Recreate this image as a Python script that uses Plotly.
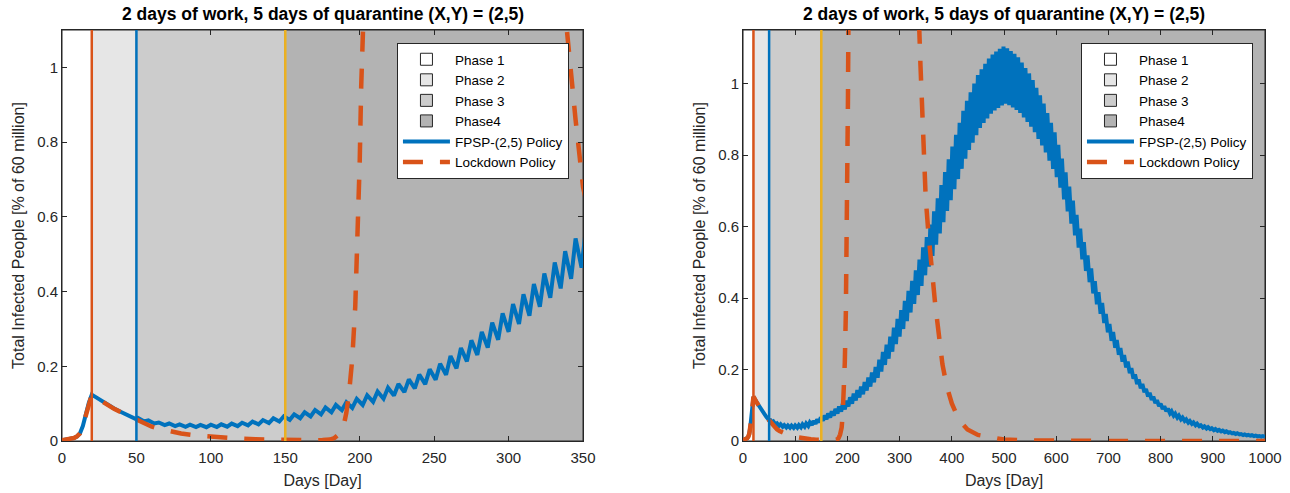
import plotly.graph_objects as go

# ---------------- data ----------------
title_text = "2 days of work, 5 days of quarantine (X,Y) = (2,5)"
phase_names = ["Phase 1", "Phase 2", "Phase 3", "Phase4"]
phase_start = [0, 20, 50, 150]
phase_colors = ["#ffffff", "#e6e6e6", "#cccccc", "#b3b3b3"]
switch_days = [20, 50, 150]
switch_colors = ["#D95319", "#0072BD", "#EDB120"]

# FPSP policy: smooth part before the weekly cycling starts
fpsp_early_days = [0, 4, 8, 10, 12, 14, 16, 18, 20, 25, 30, 35, 40, 45, 50]
fpsp_early_vals = [0.002, 0.004, 0.008, 0.012, 0.02, 0.04, 0.072, 0.102, 0.124,
                   0.111, 0.099, 0.087, 0.077, 0.067, 0.058]
# weekly cycle: a peak at the start of each week, a trough 4 days later
fpsp_week_days = list(range(51, 997, 7))
fpsp_week_level = [
    0.057, 0.051, 0.046, 0.0434, 0.0413, 0.0404, 0.0401, 0.0405, 0.0415, 0.0432,
    0.0454, 0.0482, 0.052, 0.0564, 0.0613, 0.0662, 0.0714, 0.077, 0.0833, 0.0896,
    0.0962, 0.1046, 0.1136, 0.1229, 0.132, 0.1417, 0.153, 0.165, 0.178, 0.192,
    0.211, 0.231, 0.25, 0.271, 0.294, 0.317, 0.340, 0.364, 0.390, 0.416,
    0.443, 0.471, 0.503, 0.529, 0.562, 0.596, 0.630, 0.664, 0.698, 0.731,
    0.764, 0.795, 0.826, 0.857, 0.883, 0.905, 0.928, 0.950, 0.965, 0.979,
    0.993, 1.003, 1.011, 1.018, 1.024, 1.019, 1.012, 1.005, 0.996, 0.982,
    0.968, 0.954, 0.937, 0.917, 0.897, 0.876, 0.851, 0.826, 0.801, 0.769,
    0.733, 0.697, 0.660, 0.624, 0.587, 0.551, 0.516, 0.482, 0.448, 0.415,
    0.386, 0.358, 0.330, 0.304, 0.283, 0.262, 0.241, 0.223, 0.206, 0.189,
    0.173, 0.160, 0.148, 0.135, 0.125, 0.115, 0.106, 0.097, 0.090, 0.084,
    0.077, 0.071, 0.066, 0.061, 0.056, 0.052, 0.048, 0.045, 0.041, 0.038,
    0.036, 0.033, 0.031, 0.029, 0.027, 0.025, 0.023, 0.021, 0.020, 0.018,
    0.017, 0.016, 0.015, 0.014, 0.013, 0.0125,
]
fpsp_week_swing = 0.078      # relative weekly swing
fpsp_trough_lag = 4          # days from a weekly peak to the next trough
fpsp_end_day, fpsp_end_val = 1000, 0.012

lock_days = [0, 4, 8, 10, 12, 14, 16, 18, 20, 25, 30, 35, 40, 45, 50, 55, 60, 65,
             70, 75, 80, 90, 100, 110, 120, 130, 140, 150, 160, 170, 175, 180,
             183, 186, 189, 191, 193, 195, 197, 199, 200, 201, 202, 204, 207,
             212, 220, 235, 250, 265, 280, 295, 310, 320, 330, 335, 340, 345,
             350, 355, 360, 368, 375, 382, 390, 400, 414, 430, 450, 478, 500,
             550, 600, 700, 1000]
lock_vals = [0.002, 0.004, 0.008, 0.012, 0.02, 0.04, 0.072, 0.102, 0.124, 0.111,
             0.098, 0.086, 0.076, 0.066, 0.057, 0.047, 0.039, 0.033, 0.028,
             0.024, 0.020, 0.015, 0.0115, 0.0085, 0.0063, 0.0047, 0.0033,
             0.0024, 0.0018, 0.0018, 0.0025, 0.004, 0.008, 0.018, 0.038, 0.075,
             0.135, 0.22, 0.36, 0.58, 0.75, 0.95, 1.18, 1.7, 2.6, 3.8, 5.3, 6.6,
             7.0, 6.8, 6.0, 4.6, 3.2, 2.3, 1.55, 1.27, 1.05, 0.86, 0.68, 0.585,
             0.50, 0.385, 0.30, 0.215, 0.155, 0.105, 0.058, 0.032, 0.017, 0.008,
             0.004, 0.0015, 0.0005, 0.0001, 0.0]

x_ranges = [[0, 350], [0, 1000]]
y_ranges = [[0, 1.1], [0, 1.15]]
x_ticks = [list(range(0, 351, 50)), list(range(0, 1001, 100))]

# ---------------- build series ----------------
fpsp_x = list(fpsp_early_days)
fpsp_y = list(fpsp_early_vals)
for d, v in zip(fpsp_week_days, fpsp_week_level):
    fpsp_x += [d, d + fpsp_trough_lag]
    fpsp_y += [v * (1 + fpsp_week_swing), v * (1 - fpsp_week_swing)]
fpsp_x.append(fpsp_end_day)
fpsp_y.append(fpsp_end_val)

BLUE, ORANGE = "#0072BD", "#D95319"
FONT = "Liberation Sans, Arial, sans-serif"
AX = "#262626"

fig = go.Figure()
domains = [[0, 0.4331], [0.5661, 1.0]]
legend_right = [0.4214, 0.9900]

for c in range(2):
    xa = "x" if c == 0 else "x2"
    ya = "y" if c == 0 else "y2"
    lg = "legend" if c == 0 else "legend2"
    xmax = x_ranges[c][1]
    bounds = phase_start + [xmax]
    for i, name in enumerate(phase_names):
        fig.add_shape(type="rect", xref=xa, yref=ya + " domain",
                      x0=bounds[i], x1=bounds[i + 1], y0=0, y1=1, layer="below",
                      fillcolor=phase_colors[i], line=dict(color=AX, width=1),
                      name=name, showlegend=True, legend=lg, legendrank=i + 1)
    fig.add_trace(go.Scatter(
        x=fpsp_x, y=fpsp_y, mode="lines", name="FPSP-(2,5) Policy",
        line=dict(color=BLUE, width=4), xaxis=xa, yaxis=ya, legend=lg,
        legendrank=5))
    fig.add_trace(go.Scatter(
        x=lock_days, y=lock_vals, mode="lines", name="Lockdown Policy",
        line=dict(color=ORANGE, width=4.5, dash="20px,17px"),
        xaxis=xa, yaxis=ya, legend=lg, legendrank=6))
    for d, col in zip(switch_days, switch_colors):
        fig.add_shape(type="line", xref=xa, yref=ya + " domain",
                      x0=d, x1=d, y0=0, y1=1, layer="above",
                      line=dict(color=col, width=2.5))
    fig.add_annotation(text="<b>" + title_text + "</b>", xref="paper", yref="paper",
                       x=sum(domains[c]) / 2, xanchor="center", y=1,
                       yanchor="middle", yshift=16, showarrow=False,
                       font=dict(size=17.5, color="black", family=FONT))

axis_common = dict(showline=True, linecolor=AX, linewidth=1, mirror="ticks",
                   ticks="inside", ticklen=5, tickcolor=AX, showgrid=False,
                   zeroline=False, automargin=False,
                   tickfont=dict(size=15, color=AX, family=FONT))

legend_common = dict(y=0.9684, xanchor="right", yanchor="top", bgcolor="white",
                     bordercolor=AX, borderwidth=1,
                     font=dict(size=13.5, color="black", family=FONT),
                     tracegroupgap=0, itemwidth=47)

ytitle = "Total Infected People [% of 60 million]"
fig.update_layout(
    template="none",
    width=1290, height=493,
    margin=dict(l=62, r=25, t=30, b=52),
    paper_bgcolor="white", plot_bgcolor="white",
    font=dict(family=FONT, color=AX),
    hovermode="closest",
    xaxis=dict(domain=domains[0], range=x_ranges[0], tickvals=x_ticks[0],
               ticklabelstandoff=3,
               title=dict(text="Days [Day]", font=dict(size=16, color=AX), standoff=9),
               anchor="y", **axis_common),
    yaxis=dict(range=y_ranges[0], dtick=0.2, anchor="x", ticklabelstandoff=0,
               title=dict(text=ytitle, font=dict(size=16, color=AX), standoff=8),
               **axis_common),
    xaxis2=dict(domain=domains[1], range=x_ranges[1], tickvals=x_ticks[1],
                ticklabelstandoff=3,
                title=dict(text="Days [Day]", font=dict(size=16, color=AX), standoff=9),
                anchor="y2", **axis_common),
    yaxis2=dict(range=y_ranges[1], dtick=0.2, anchor="x2", ticklabelstandoff=0,
                title=dict(text=ytitle, font=dict(size=16, color=AX), standoff=8),
                **axis_common),
    legend=dict(x=legend_right[0], **legend_common),
    legend2=dict(x=legend_right[1], **legend_common),
)

fig.write_html("out.html", config={"displayModeBar": False},
               post_script="document.body.style.margin='0';document.body.style.overflow='hidden';")
